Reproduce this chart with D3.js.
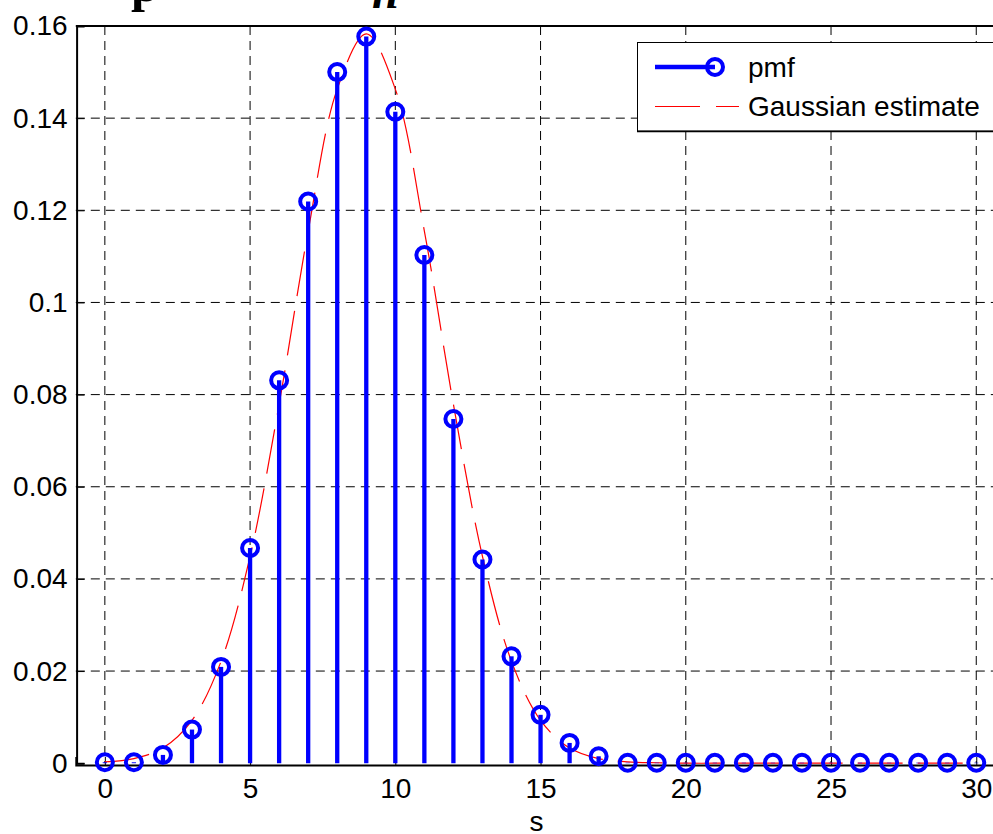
<!DOCTYPE html>
<html>
<head>
<meta charset="utf-8">
<script src="https://cdn.jsdelivr.net/npm/d3@7"></script>
<style>
html,body{margin:0;padding:0;background:#fff;overflow:hidden;}
svg{display:block;}
</style>
</head>
<body>
<svg id="chart" width="993" height="834"></svg>
<script>
// ---- data ----
const sValues = [0,1,2,3,4,5,6,7,8,9,10,11,12,13,14,15,16,17,18,19,20,21,22,23,24,25,26,27,28,29,30];
const pmfValues = [0.0002,0.0002,0.0018,0.0073,0.0209,0.0467,0.0831,0.1219,0.1500,0.1577,0.1414,0.1103,0.0747,0.0442,0.0232,0.0105,0.0044,0.0015,0.0001,0.0001,0.0001,0.0001,0.0001,0.0001,0.0001,0.0001,0.0001,0.0001,0.0001,0.0001,0.0001];
const gaussValues = [0.0003,0.0010,0.0033,0.0093,0.0221,0.0449,0.0779,0.1155,0.1463,0.1583,0.1463,0.1155,0.0779,0.0449,0.0221,0.0093,0.0033,0.0010,0.0003,0.0001,0,0,0,0,0,0,0,0,0,0,0];
const xTicks = [0,5,10,15,20,25,30];
const yTicks = [0,0.02,0.04,0.06,0.08,0.1,0.12,0.14,0.16];
const yTickLabels = ["0","0.02","0.04","0.06","0.08","0.1","0.12","0.14","0.16"];
const legendLabels = ["pmf","Gaussian estimate"];
const xLabel = "s";

// ---- layout ----
const svg = d3.select("#chart");
const x = d3.scaleLinear().domain([-1,31]).range([75.8,1005.3]);
const y = d3.scaleLinear().domain([0,0.16]).range([763.2,26]);
const font = "'Liberation Sans', Arial, sans-serif";
const fs = 28;
const blue = "#0000ff";

// title (cropped at top of the image)
svg.append("text").attr("x",131).attr("y",1)
  .attr("font-family","'Liberation Serif', 'Times New Roman', serif")
  .attr("font-weight","bold").attr("font-size",50).text("p");
svg.append("text").attr("x",372).attr("y",8)
  .attr("font-family","'Liberation Serif', 'Times New Roman', serif")
  .attr("font-style","italic").attr("font-weight","bold").attr("font-size",48).text("n");

// gridlines
const grid = svg.append("g");
grid.selectAll("line.gx").data(xTicks).enter().append("line")
  .attr("x1",d=>x(d)).attr("x2",d=>x(d)).attr("y1",y(0.16)).attr("y2",y(0))
  .attr("stroke","#000").attr("stroke-width",1).attr("stroke-dasharray","9,6");
grid.selectAll("line.gy").data(yTicks.slice(1,-1)).enter().append("line")
  .attr("x1",x(-1)).attr("x2",x(31)).attr("y1",d=>y(d)).attr("y2",d=>y(d))
  .attr("stroke","#000").attr("stroke-width",1).attr("stroke-dasharray","9,6");

// axes
const xAxis = d3.axisBottom(x).tickValues(xTicks).tickSize(-8).tickPadding(13).tickFormat(d3.format("d"));
const xg = svg.append("g").attr("transform",`translate(0,${y(0)+1.8})`).call(xAxis);
const yAxis = d3.axisLeft(y).tickValues(yTicks).tickSize(-8).tickPadding(9).tickFormat((d,i)=>yTickLabels[i]);
const yg = svg.append("g").attr("transform",`translate(${x(-1)+0.8},0)`).call(yAxis);
[xg,yg].forEach(g=>{
  g.select(".domain").attr("stroke","#000").attr("stroke-width",2);
  g.selectAll(".tick line").attr("stroke","#000").attr("stroke-width",1);
  g.selectAll(".tick text").attr("font-family",font).attr("font-size",fs).attr("fill","#000");
});
// top / right box border
svg.append("line").attr("x1",x(-1)).attr("x2",x(31)).attr("y1",y(0.16)).attr("y2",y(0.16))
  .attr("stroke","#000").attr("stroke-width",2);
svg.append("line").attr("x1",x(31)).attr("x2",x(31)).attr("y1",y(0.16)).attr("y2",y(0))
  .attr("stroke","#000").attr("stroke-width",2);

// x label
svg.append("text").attr("x",x(15)-4).attr("y",831).attr("text-anchor","middle")
  .attr("font-family",font).attr("font-size",fs).text(xLabel);

// gaussian estimate
const line = d3.line().x((d,i)=>x(sValues[i])).y(d=>y(d)).curve(d3.curveCatmullRom.alpha(0.5));
svg.append("path").datum(gaussValues).attr("d",line).attr("fill","none")
  .attr("stroke","#ff0000").attr("stroke-width",1.2).attr("stroke-dasharray","45,15");

// stems
const pts = sValues.map((s,i)=>({s,v:pmfValues[i]}));
svg.selectAll("line.stem").data(pts).enter().append("line")
  .attr("x1",d=>x(d.s)).attr("x2",d=>x(d.s)).attr("y1",y(0)).attr("y2",d=>y(d.v))
  .attr("stroke",blue).attr("stroke-width",4.3);
svg.selectAll("circle.mk").data(pts).enter().append("circle")
  .attr("cx",d=>x(d.s)).attr("cy",d=>y(d.v)).attr("r",8)
  .attr("fill","none").attr("stroke",blue).attr("stroke-width",4);

// legend
const lg = svg.append("g");
lg.append("rect").attr("x",637.5).attr("y",42.5).attr("width",400).attr("height",88.5)
  .attr("fill","#fff").attr("stroke","#000").attr("stroke-width",1);
lg.append("line").attr("x1",637).attr("x2",1000).attr("y1",131.5).attr("y2",131.5).attr("stroke","#000").attr("stroke-width",1.5);
lg.append("line").attr("x1",655).attr("x2",715).attr("y1",67).attr("y2",67)
  .attr("stroke",blue).attr("stroke-width",4.3);
lg.append("circle").attr("cx",715).attr("cy",67).attr("r",8)
  .attr("fill","none").attr("stroke",blue).attr("stroke-width",4);
lg.append("line").attr("x1",655).attr("x2",739).attr("y1",106.5).attr("y2",106.5)
  .attr("stroke","#ff0000").attr("stroke-width",1).attr("stroke-dasharray","45,16");
lg.selectAll("text.lt").data(legendLabels).enter().append("text")
  .attr("x",748).attr("y",(d,i)=>i===0?77:116)
  .attr("font-family",font).attr("font-size",fs).attr("fill","#000").text(d=>d);
</script>
</body>
</html>
